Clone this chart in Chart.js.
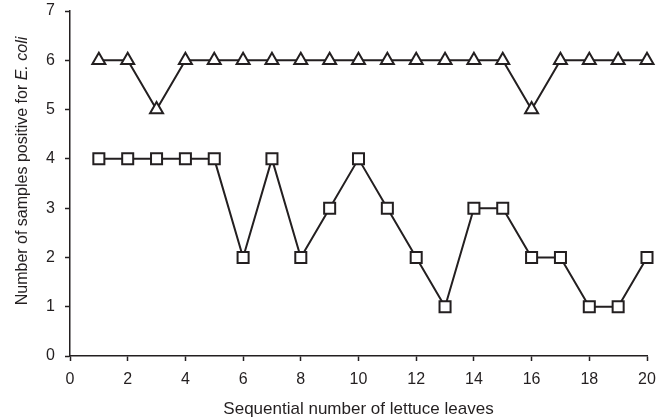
<!DOCTYPE html>
<html>
<head>
<meta charset="utf-8">
<script src="https://cdn.jsdelivr.net/npm/chart.js@4"></script>
<style>
  html, body { margin: 0; padding: 0; background: #fff; }
  #wrap { width: 669px; height: 418px; position: relative; }
</style>
</head>
<body>
<div id="wrap"><canvas id="grafico"></canvas></div>
<script>
// hojas de lechuga 1..20
const leaves = [1, 2, 3, 4, 5, 6, 7, 8, 9, 10, 11, 12, 13, 14, 15, 16, 17, 18, 19, 20];
const triangles = [6, 6, 5, 6, 6, 6, 6, 6, 6, 6, 6, 6, 6, 6, 6, 5, 6, 6, 6, 6];
const squares = [4, 4, 4, 4, 4, 2, 4, 2, 3, 4, 3, 2, 1, 3, 3, 2, 2, 1, 1, 2];
const xTicks = [0, 2, 4, 6, 8, 10, 12, 14, 16, 18, 20];
const yTicks = [0, 1, 2, 3, 4, 5, 6, 7];
const xTitle = 'Sequential number of lettuce leaves';
const yTitle = ['Number of samples positive for ', 'E. coli'];

const ink = '#231f20';
const fuente = '"Liberation Sans", Arial, sans-serif';
const tam = 16;

const puntos = (vals) => leaves.map((x, i) => ({ x: x, y: vals[i] }));

// titulos de los ejes (el del eje y lleva "E. coli" en cursiva)
const titulos = {
  id: 'titulos',
  afterDraw(chart) {
    const ctx = chart.ctx;
    const area = chart.chartArea;
    ctx.save();
    ctx.fillStyle = ink;
    ctx.textBaseline = 'middle';

    ctx.font = '17px ' + fuente;
    ctx.textAlign = 'center';
    ctx.fillText(xTitle, (area.left + area.right) / 2, 409);

    ctx.textAlign = 'left';
    ctx.font = tam + 'px ' + fuente;
    const w1 = ctx.measureText(yTitle[0]).width;
    ctx.font = 'italic ' + tam + 'px ' + fuente;
    const w2 = ctx.measureText(yTitle[1]).width;
    ctx.translate(23, 171);
    ctx.rotate(-Math.PI / 2);
    const start = -(w1 + w2) / 2;
    ctx.font = tam + 'px ' + fuente;
    ctx.fillText(yTitle[0], start, 0);
    ctx.font = 'italic ' + tam + 'px ' + fuente;
    ctx.fillText(yTitle[1], start + w1, 0);
    ctx.restore();
  }
};

const serie = (vals, estilo, radio) => ({
  data: puntos(vals),
  borderColor: ink,
  borderWidth: 2,
  pointStyle: estilo,
  pointRadius: radio,
  pointHoverRadius: radio,
  pointBackgroundColor: '#fff',
  pointBorderColor: ink,
  pointBorderWidth: 2,
  tension: 0,
  fill: false,
  clip: false
});

new Chart(document.getElementById('grafico'), {
  type: 'line',
  data: {
    datasets: [
      serie(triangles, 'triangle', 7.5),
      serie(squares, 'rect', 7.8)
    ]
  },
  options: {
    responsive: true,
    maintainAspectRatio: false,
    animation: false,
    layout: { padding: { left: 0, right: 22, top: 11, bottom: 0 } },
    plugins: {
      legend: { display: false },
      tooltip: { enabled: false }
    },
    scales: {
      x: {
        type: 'linear',
        min: 0,
        max: 20,
        afterBuildTicks: (s) => { s.ticks = xTicks.map(v => ({ value: v })); },
        afterFit: (s) => { s.height = 62; s.paddingLeft = 0; s.paddingRight = 0; },
        ticks: { color: ink, font: { family: fuente, size: tam }, padding: 9, maxRotation: 0 },
        grid: { display: true, drawOnChartArea: false, drawTicks: true, tickLength: 5, color: ink, tickWidth: 1.5 },
        border: { display: true, color: ink, width: 1.5 }
      },
      y: {
        min: 0,
        max: 7,
        afterBuildTicks: (s) => { s.ticks = yTicks.map(v => ({ value: v })); },
        afterFit: (s) => { s.width = 70; s.paddingTop = 0; s.paddingBottom = 0; },
        ticks: { color: ink, font: { family: fuente, size: tam }, padding: 10 },
        grid: { display: true, drawOnChartArea: false, drawTicks: true, tickLength: 5, color: ink, tickWidth: 1.5 },
        border: { display: true, color: ink, width: 1.5 }
      }
    }
  },
  plugins: [titulos]
});
</script>
</body>
</html>
